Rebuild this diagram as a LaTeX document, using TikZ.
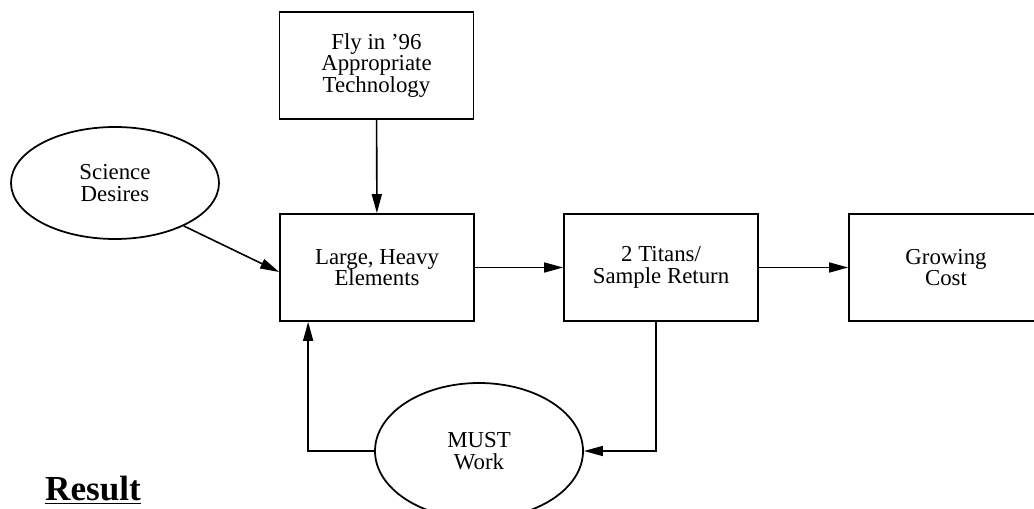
\documentclass[tikz,border=0pt]{standalone}
\usepackage{fontspec}
\setmainfont{Liberation Serif}
\usetikzlibrary{arrows.meta,shapes.geometric,positioning,calc}

\tikzset{
	box/.style={draw, line width=1pt, minimum width=3.88cm, minimum height=2.14cm, align=center, inner sep=0pt, font=\fontsize{13}{12.2}\selectfont},
	oval/.style={draw, ellipse, line width=1pt, minimum width=4.16cm, align=center, inner sep=0pt, font=\fontsize{13}{12.2}\selectfont},
	arr/.style={line width=0.9pt, -{Triangle[length=3.8mm,width=2mm]}}
}

\begin{document}
\begin{tikzpicture}
	\useasboundingbox (0,0) rectangle (20.68,10.16);
	\node[box] (fly) at (7.53,8.85) {Fly in '96\\Appropriate\\Technology};
	\node[box] (large) at (7.54,4.81) {Large, Heavy\\Elements};
	\node[box] (titans) at (13.22,4.81) {2 Titans/\\Sample Return};
	\node[box] (cost) at (18.92,4.81) {Growing\\Cost};
	\node[oval, minimum height=2.24cm] (sci) at (2.30,6.50) {Science\\Desires};
	\node[oval, minimum height=2.72cm] (must) at (9.58,1.14) {MUST\\Work};
	\node[anchor=base west, font=\fontsize{20}{22}\selectfont\bfseries] (res) at (0.78,0.16) {\underline{Result}};
	\draw[arr] (fly) -- (large);
	\draw[arr] (sci.-32) -- ([yshift=-0.09cm]large.west);
	\draw[arr] (large) -- (titans);
	\draw[arr] (titans) -- (cost);
	\draw[arr] ([xshift=-0.1cm]titans.south) |- (must.east);
	\draw[arr] (must.west) -| ([xshift=0.58cm]large.south west);
\end{tikzpicture}
\end{document}
